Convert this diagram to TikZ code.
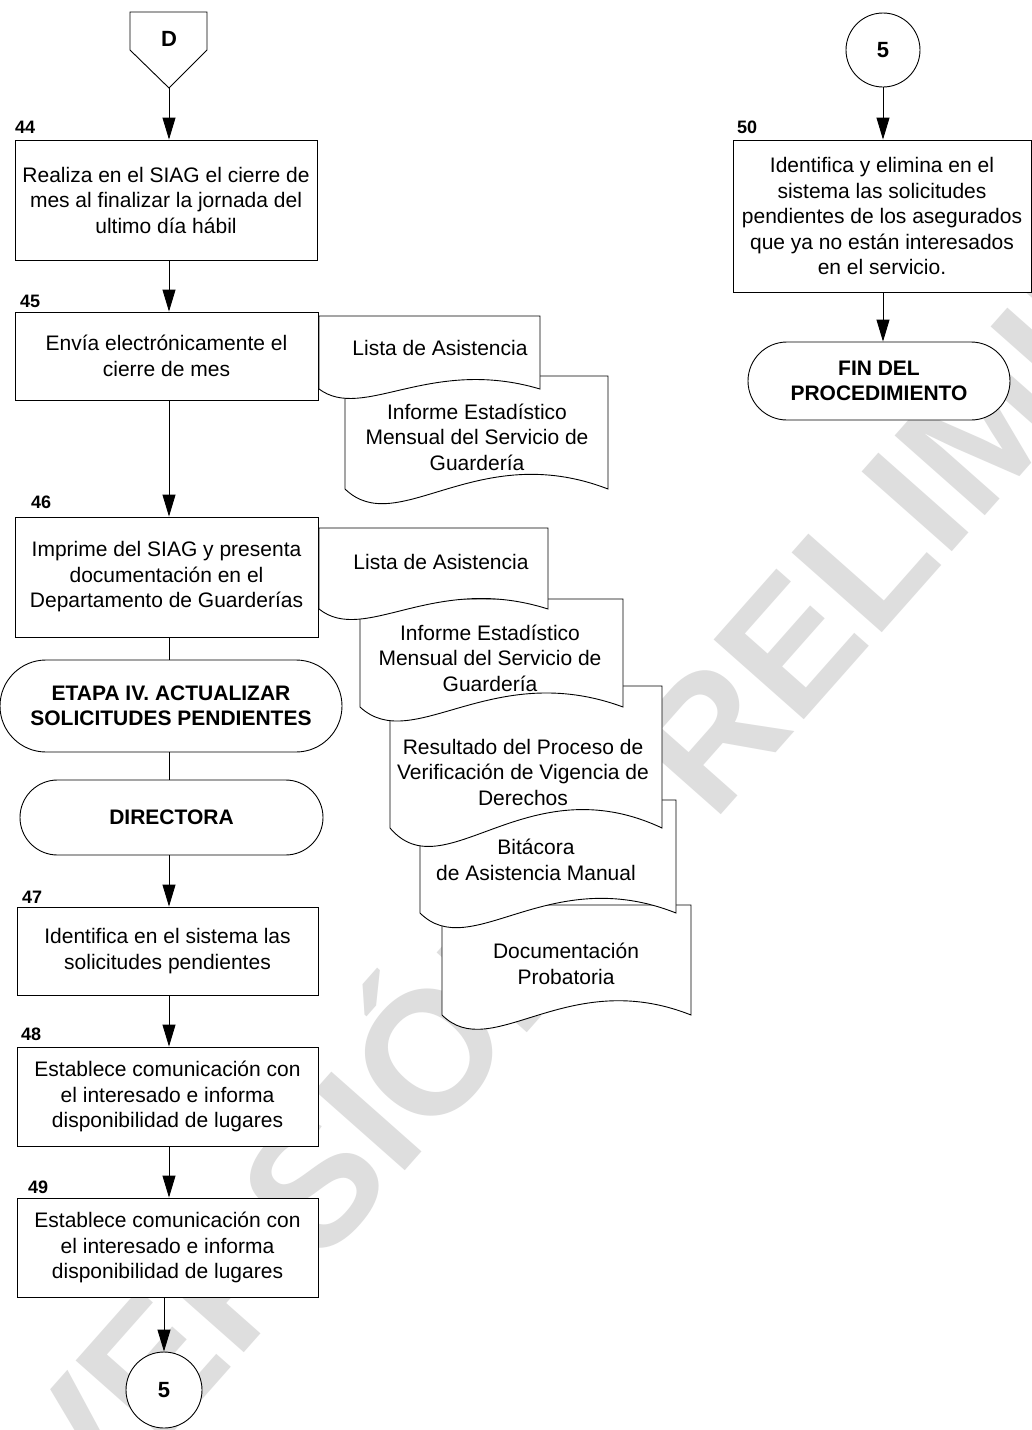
\documentclass[tikz,border=0pt]{standalone}
\usepackage{fontspec}
\setmainfont{Liberation Sans}
\usetikzlibrary{arrows.meta,shapes.misc}
\newcommand\mainfs{\fontsize{21}{25.5}\selectfont}
% document shape: #1 left x, #2 top y, #3 right x, #4 y where the sides end
\newcommand\docpath[4]{%
  \draw[docst] (#1,#2) -- (#1,#4)
    .. controls ({#1+0.2*(#3-#1)},{#4+0.45*(#4-#2)}) and ({#1+0.5*(#3-#1)},{#4-0.45*(#4-#2)}) .. (#3,#4)
    -- (#3,#2) -- cycle;}
\begin{document}
\begin{tikzpicture}[x=1pt,y=-1pt,
  box/.style={draw, fill=white, line width=0.9pt, align=center, inner sep=0pt, font=\mainfs},
  term/.style={draw, fill=white, line width=0.9pt, rounded rectangle, align=center, inner sep=0pt, font=\mainfs\bfseries},
  conn/.style={draw, fill=white, line width=0.9pt, circle, inner sep=0pt, minimum size=75pt, font=\fontsize{22}{24}\selectfont\bfseries},
  docst/.style={draw, fill=white, line width=0.9pt},
  doctext/.style={align=center, inner sep=0pt, font=\mainfs},
  numlab/.style={anchor=base west, inner sep=0pt, font=\fontsize{18}{20}\selectfont\bfseries},
  arr/.style={line width=0.9pt, -{Triangle[width=13pt,length=22pt]}},
  ln/.style={line width=0.9pt},
  wm/.style={text=black!13, inner sep=0pt, font=\fontsize{175}{175}\selectfont\bfseries}
]
\useasboundingbox (0,0) rectangle (1032,1430);
\fill[white] (0,0) rectangle (1032,1430);

% watermark
\node[wm, rotate=48.5] (wmark) at (662,765) {VERSIÓN PRELIMINAR};

% documents, group A (step 45)
\docpath{345}{376}{608}{489}
\node[doctext] (a2t) at (477,437) {Informe Estadístico\\Mensual del Servicio de\\Guardería};
\docpath{319}{316}{540}{389}
\node[doctext] (a1t) at (440,348) {Lista de Asistencia};

% documents, group B (step 46)
\docpath{442}{905}{691}{1015}
\node[doctext] (b5t) at (566,964) {Documentación\\Probatoria};
\docpath{420}{800}{676}{913}
\node[doctext] (b4t) at (536,860) {Bitácora\\de Asistencia Manual};
\docpath{390}{686}{662}{828}
\node[doctext] (b3t) at (523,772) {Resultado del Proceso de\\Verificación de Vigencia de\\Derechos};
\docpath{360}{599}{623}{707}
\node[doctext] (b2t) at (490,658) {Informe Estadístico\\Mensual del Servicio de\\Guardería};
\docpath{319}{528}{548}{609}
\node[doctext] (b1t) at (441,562) {Lista de Asistencia};

% off-page connector D
\draw[docst] (130,12) -- (207,12) -- (207,50) -- (169,88) -- (130,50) -- cycle;
\node[font=\fontsize{22}{24}\selectfont\bfseries, inner sep=0pt] (dlab) at (169,39) {D};
\coordinate (dtip) at (169,88);

% left column
\node[box, minimum width=302pt, minimum height=120pt] (b44) at (166,200)
  {Realiza en el SIAG el cierre de\\mes al finalizar la jornada del\\ultimo día hábil};
\node[numlab] (l44) at (15,133) {44};
\node[box, minimum width=303pt, minimum height=88pt] (b45) at (166.5,356)
  {Envía electrónicamente el\\cierre de mes};
\node[numlab] (l45) at (20,307) {45};
\node[box, minimum width=303pt, minimum height=120pt] (b46) at (166.5,577)
  {Imprime del SIAG y presenta\\documentación en el\\Departamento de Guarderías};
\node[numlab] (l46) at (31,508) {46};
\node[term, minimum width=342pt, minimum height=92pt] (etapa) at (171,706)
  {ETAPA IV. ACTUALIZAR\\SOLICITUDES PENDIENTES};
\node[term, minimum width=303pt, minimum height=75pt] (dir) at (171.5,817.5) {DIRECTORA};
\node[box, minimum width=301pt, minimum height=88pt] (b47) at (167.5,951)
  {Identifica en el sistema las\\solicitudes pendientes};
\node[numlab] (l47) at (22,903) {47};
\node[box, minimum width=301pt, minimum height=99pt] (b48) at (167.5,1096.5)
  {Establece comunicación con\\el interesado e informa\\disponibilidad de lugares};
\node[numlab] (l48) at (21,1040) {48};
\node[box, minimum width=301pt, minimum height=99pt] (b49) at (167.5,1247.5)
  {Establece comunicación con\\el interesado e informa\\disponibilidad de lugares};
\node[numlab] (l49) at (28,1193) {49};
\node[conn, minimum size=76pt] (c5b) at (164,1390) {5};

% right column
\node[conn, minimum size=74pt] (c5a) at (883,50) {5};
\node[box, minimum width=298pt, minimum height=152pt] (b50) at (882,216)
  {Identifica y elimina en el\\sistema las solicitudes\\pendientes de los asegurados\\que ya no están interesados\\en el servicio.};
\node[numlab] (l50) at (737,133) {50};
\node[term, minimum width=262pt, minimum height=78pt] (fin) at (879,381)
  {FIN DEL\\PROCEDIMIENTO};

% connectors
\draw[arr] (dtip) -- (dtip |- b44.north);
\draw[arr] (dtip |- b44.south) -- (dtip |- b45.north);
\draw[arr] (dtip |- b45.south) -- (dtip |- b46.north);
\draw[ln] (dtip |- b46.south) -- (dtip |- etapa.north);
\draw[ln] (dtip |- etapa.south) -- (dtip |- dir.north);
\draw[arr] (dtip |- dir.south) -- (dtip |- b47.north);
\draw[arr] (dtip |- b47.south) -- (dtip |- b48.north);
\draw[arr] (dtip |- b48.south) -- (dtip |- b49.north);
\draw[arr] (c5b |- b49.south) -- (c5b.north);
\draw[arr] (c5a.south) -- (c5a |- b50.north);
\draw[arr] (c5a |- b50.south) -- (c5a |- fin.north);
\end{tikzpicture}
\end{document}
